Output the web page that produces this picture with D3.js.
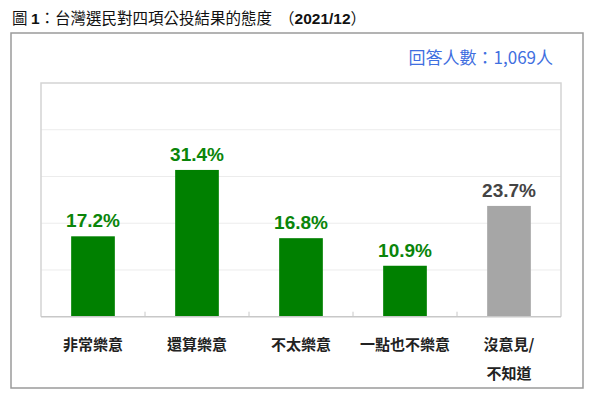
<!DOCTYPE html>
<html>
<head>
<meta charset="utf-8">
<title>台灣選民對四項公投結果的態度</title>
<script src="https://d3js.org/d3.v7.min.js"></script>
<style>
    body { margin: 0; background: #fff; }
    svg { display: block; }
    .cjk { font-family: "Noto Sans CJK TC", "Noto Sans CJK SC", sans-serif; }
    .num { font-family: "Liberation Sans", Arial, sans-serif; }
</style>
</head>
<body>
<svg id="chart" width="600" height="404"></svg>
<script>
// 資料
const categories = ["非常樂意", "還算樂意", "不太樂意", "一點也不樂意", "沒意見/\n不知道"];
const values = [17.2, 31.4, 16.8, 10.9, 23.7];
const barColors = ["#008000", "#008000", "#008000", "#008000", "#a6a6a6"];
const labelColors = ["#0a850a", "#0a850a", "#0a850a", "#0a850a", "#444444"];
const gridTicks = [10, 20, 30, 40];
const titleParts = [
    {t: "圖 ", bold: false},
    {t: "1", bold: true},
    {t: "：台灣選民對四項公投結果的態度 \u00a0（", bold: false},
    {t: "2021/12", bold: true},
    {t: "）", bold: false}
];
const sampleText = "回答人數：1,069人";

const svg = d3.select("#chart");

// 外框
svg.append("rect")
    .attr("x", 11).attr("y", 33)
    .attr("width", 572).attr("height", 355)
    .attr("fill", "none")
    .attr("stroke", "#9a9a9a")
    .attr("stroke-width", 1.5);

// 標題
const title = svg.append("text")
    .attr("x", 12).attr("y", 24)
    .attr("font-size", 15.5)
    .attr("fill", "#111");
titleParts.forEach(p => {
    title.append("tspan")
        .attr("class", p.bold ? "num" : "cjk")
        .attr("font-weight", p.bold ? "bold" : "normal")
        .text(p.t);
});

// 樣本數
svg.append("text")
    .attr("class", "cjk")
    .attr("x", 553).attr("y", 64)
    .attr("text-anchor", "end")
    .attr("font-size", 17)
    .attr("fill", "#3f6fe0")
    .text(sampleText);

const plot = {left: 41, right: 561, top: 83, bottom: 316.7};

const x = d3.scaleBand()
    .domain(d3.range(categories.length))
    .range([plot.left, plot.right])
    .paddingInner(0.58)
    .paddingOuter(0.29);

const y = d3.scaleLinear()
    .domain([0, 50])
    .range([plot.bottom, plot.top]);

// 格線
svg.selectAll(".grid")
    .data(gridTicks)
    .enter()
    .append("line")
    .attr("class", "grid")
    .attr("x1", plot.left).attr("x2", plot.right)
    .attr("y1", d => y(d)).attr("y2", d => y(d))
    .attr("stroke", "#ececec")
    .attr("stroke-width", 1);

// 繪圖區邊框
svg.append("path")
    .attr("d", `M${plot.left},${plot.bottom}V${plot.top}H${plot.right}V${plot.bottom}`)
    .attr("fill", "none")
    .attr("stroke", "#d4d4d4")
    .attr("stroke-width", 1.5);

// 長條
svg.selectAll(".bar")
    .data(values)
    .enter()
    .append("rect")
    .attr("class", "bar")
    .attr("x", (d, i) => x(i))
    .attr("width", x.bandwidth())
    .attr("y", d => y(d))
    .attr("height", d => y(0) - y(d))
    .attr("fill", (d, i) => barColors[i]);

// 底線與刻度
svg.append("line")
    .attr("x1", plot.left).attr("x2", plot.right)
    .attr("y1", plot.bottom).attr("y2", plot.bottom)
    .attr("stroke", "#c8c8c8")
    .attr("stroke-width", 1.5);

const step = x.step();
svg.selectAll(".tick")
    .data(d3.range(1, categories.length))
    .enter()
    .append("line")
    .attr("class", "tick")
    .attr("x1", i => plot.left + step * i).attr("x2", i => plot.left + step * i)
    .attr("y1", plot.bottom - 5).attr("y2", plot.bottom)
    .attr("stroke", "#c8c8c8")
    .attr("stroke-width", 1);

// 數值標籤
svg.selectAll(".value")
    .data(values)
    .enter()
    .append("text")
    .attr("class", "value num")
    .attr("x", (d, i) => x(i) + x.bandwidth() / 2)
    .attr("y", d => y(d) - 9)
    .attr("text-anchor", "middle")
    .attr("font-size", 19)
    .attr("font-weight", "bold")
    .attr("fill", (d, i) => labelColors[i])
    .text(d => d.toFixed(1) + "%");

// 類別標籤
const cat = svg.selectAll(".cat")
    .data(categories)
    .enter()
    .append("text")
    .attr("class", "cat cjk")
    .attr("x", (d, i) => x(i) + x.bandwidth() / 2)
    .attr("y", 350)
    .attr("text-anchor", "middle")
    .attr("font-size", 15)
    .attr("font-weight", "bold")
    .attr("fill", "#222");

cat.each(function(d) {
    const lines = d.split("\n");
    const t = d3.select(this);
    lines.forEach((ln, k) => {
        t.append("tspan")
            .attr("x", t.attr("x"))
            .attr("dy", k === 0 ? 0 : 29)
            .text(ln);
    });
});
</script>
</body>
</html>
